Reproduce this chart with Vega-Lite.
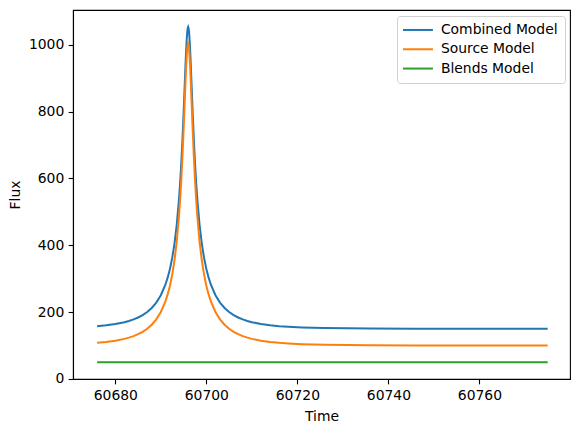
{
  "$schema": "https://vega.github.io/schema/vega-lite/v6.json",
  "width": 497,
  "height": 369,
  "autosize": {"type": "none"},
  "padding": {"left": 73, "top": 10, "right": 10, "bottom": 53},
  "background": "white",
  "config": {
    "font": "DejaVu Sans",
    "view": {"stroke": "#000", "strokeWidth": 1.1},
    "axis": {
      "grid": false,
      "domainColor": "#000",
      "domainWidth": 1.1,
      "tickColor": "#000",
      "tickWidth": 1.1,
      "tickSize": 4.86,
      "labelFont": "DejaVu Sans",
      "labelFontSize": 13.9,
      "labelColor": "#000",
      "labelPadding": 4.4,
      "titleFont": "DejaVu Sans",
      "titleFontSize": 13.9,
      "titleFontWeight": "normal",
      "titleColor": "#000"
    }
  },
  "data": {
    "values": [
      {"t": 60676, "combined": 157.93, "source": 107.93, "blends": 50},
      {"t": 60678, "combined": 160.57, "source": 110.57, "blends": 50},
      {"t": 60680, "combined": 164.33, "source": 114.33, "blends": 50},
      {"t": 60682, "combined": 169.83, "source": 119.83, "blends": 50},
      {"t": 60683, "combined": 173.53, "source": 123.53, "blends": 50},
      {"t": 60684, "combined": 178.10, "source": 128.10, "blends": 50},
      {"t": 60685, "combined": 183.81, "source": 133.81, "blends": 50},
      {"t": 60686, "combined": 191.02, "source": 141.02, "blends": 50},
      {"t": 60687, "combined": 200.27, "source": 150.27, "blends": 50},
      {"t": 60688, "combined": 212.33, "source": 162.33, "blends": 50},
      {"t": 60689, "combined": 228.42, "source": 178.42, "blends": 50},
      {"t": 60690, "combined": 250.49, "source": 200.49, "blends": 50},
      {"t": 60691, "combined": 281.94, "source": 231.94, "blends": 50},
      {"t": 60691.5, "combined": 302.96, "source": 252.96, "blends": 50},
      {"t": 60692, "combined": 329.10, "source": 279.10, "blends": 50},
      {"t": 60692.5, "combined": 362.19, "source": 312.19, "blends": 50},
      {"t": 60693, "combined": 405.05, "source": 355.05, "blends": 50},
      {"t": 60693.5, "combined": 461.99, "source": 411.99, "blends": 50},
      {"t": 60694, "combined": 539.67, "source": 489.67, "blends": 50},
      {"t": 60694.25, "combined": 589.20, "source": 539.20, "blends": 50},
      {"t": 60694.5, "combined": 647.69, "source": 597.69, "blends": 50},
      {"t": 60694.75, "combined": 716.30, "source": 666.30, "blends": 50},
      {"t": 60695, "combined": 795.00, "source": 745.00, "blends": 50},
      {"t": 60695.2, "combined": 863.36, "source": 813.36, "blends": 50},
      {"t": 60695.4, "combined": 932.17, "source": 882.17, "blends": 50},
      {"t": 60695.5, "combined": 964.48, "source": 914.48, "blends": 50},
      {"t": 60695.6, "combined": 993.79, "source": 943.79, "blends": 50},
      {"t": 60695.7, "combined": 1018.65, "source": 968.65, "blends": 50},
      {"t": 60695.8, "combined": 1037.67, "source": 987.67, "blends": 50},
      {"t": 60695.9, "combined": 1049.65, "source": 999.65, "blends": 50},
      {"t": 60696, "combined": 1053.7, "source": 1003.7, "blends": 50},
      {"t": 60696.1, "combined": 1049.65, "source": 999.65, "blends": 50},
      {"t": 60696.2, "combined": 1037.67, "source": 987.67, "blends": 50},
      {"t": 60696.3, "combined": 1018.65, "source": 968.65, "blends": 50},
      {"t": 60696.4, "combined": 993.79, "source": 943.79, "blends": 50},
      {"t": 60696.5, "combined": 964.48, "source": 914.48, "blends": 50},
      {"t": 60696.6, "combined": 932.17, "source": 882.17, "blends": 50},
      {"t": 60696.8, "combined": 863.36, "source": 813.36, "blends": 50},
      {"t": 60697, "combined": 795.00, "source": 745.00, "blends": 50},
      {"t": 60697.25, "combined": 716.30, "source": 666.30, "blends": 50},
      {"t": 60697.5, "combined": 647.69, "source": 597.69, "blends": 50},
      {"t": 60697.75, "combined": 589.20, "source": 539.20, "blends": 50},
      {"t": 60698, "combined": 539.67, "source": 489.67, "blends": 50},
      {"t": 60698.5, "combined": 461.99, "source": 411.99, "blends": 50},
      {"t": 60699, "combined": 405.05, "source": 355.05, "blends": 50},
      {"t": 60699.5, "combined": 362.19, "source": 312.19, "blends": 50},
      {"t": 60700, "combined": 329.10, "source": 279.10, "blends": 50},
      {"t": 60700.5, "combined": 302.96, "source": 252.96, "blends": 50},
      {"t": 60701, "combined": 281.94, "source": 231.94, "blends": 50},
      {"t": 60702, "combined": 250.49, "source": 200.49, "blends": 50},
      {"t": 60703, "combined": 228.42, "source": 178.42, "blends": 50},
      {"t": 60704, "combined": 212.33, "source": 162.33, "blends": 50},
      {"t": 60705, "combined": 200.27, "source": 150.27, "blends": 50},
      {"t": 60706, "combined": 191.02, "source": 141.02, "blends": 50},
      {"t": 60707, "combined": 183.81, "source": 133.81, "blends": 50},
      {"t": 60708, "combined": 178.10, "source": 128.10, "blends": 50},
      {"t": 60709, "combined": 173.53, "source": 123.53, "blends": 50},
      {"t": 60710, "combined": 169.83, "source": 119.83, "blends": 50},
      {"t": 60712, "combined": 164.33, "source": 114.33, "blends": 50},
      {"t": 60714, "combined": 160.57, "source": 110.57, "blends": 50},
      {"t": 60716, "combined": 157.93, "source": 107.93, "blends": 50},
      {"t": 60718, "combined": 156.05, "source": 106.05, "blends": 50},
      {"t": 60721, "combined": 154.13, "source": 104.13, "blends": 50},
      {"t": 60726, "combined": 152.32, "source": 102.32, "blends": 50},
      {"t": 60731, "combined": 151.39, "source": 101.39, "blends": 50},
      {"t": 60736, "combined": 150.87, "source": 100.87, "blends": 50},
      {"t": 60746, "combined": 150.39, "source": 100.39, "blends": 50},
      {"t": 60756, "combined": 150.20, "source": 100.20, "blends": 50},
      {"t": 60766, "combined": 150.11, "source": 100.11, "blends": 50},
      {"t": 60775, "combined": 150.07, "source": 100.07, "blends": 50}
    ]
  },
  "transform": [
    {"fold": ["combined", "source", "blends"], "as": ["model", "flux"]}
  ],
  "mark": {"type": "line", "strokeWidth": 2, "clip": true},
  "encoding": {
    "x": {
      "field": "t",
      "type": "quantitative",
      "title": "Time",
      "scale": {"domain": [60670.7, 60779.9], "nice": false, "zero": false},
      "axis": {"values": [60680, 60700, 60720, 60740, 60760], "format": "d", "titlePadding": 7}
    },
    "y": {
      "field": "flux",
      "type": "quantitative",
      "title": "Flux",
      "scale": {"domain": [-0.2, 1103.9], "nice": false, "zero": false},
      "axis": {"values": [0, 200, 400, 600, 800, 1000], "format": "d", "titlePadding": 6}
    },
    "color": {
      "field": "model",
      "type": "nominal",
      "sort": ["combined", "source", "blends"],
      "scale": {"domain": ["combined", "source", "blends"], "range": ["#1f77b4", "#ff7f0e", "#2ca02c"]},
      "legend": {
        "title": null,
        "orient": "none",
        "legendX": 324,
        "legendY": 6,
        "labelExpr": "datum.label == 'combined' ? 'Combined Model' : datum.label == 'source' ? 'Source Model' : 'Blends Model'",
        "symbolType": "M-1.6,0H4.4",
        "symbolSize": 100,
        "symbolStrokeWidth": 2,
        "labelFont": "DejaVu Sans",
        "labelFontSize": 13.9,
        "labelColor": "#000",
        "labelOffset": 23,
        "rowPadding": 4.3,
        "padding": 7,
        "fillColor": "white",
        "strokeColor": "#d0d0d0",
        "cornerRadius": 3
      }
    }
  }
}
